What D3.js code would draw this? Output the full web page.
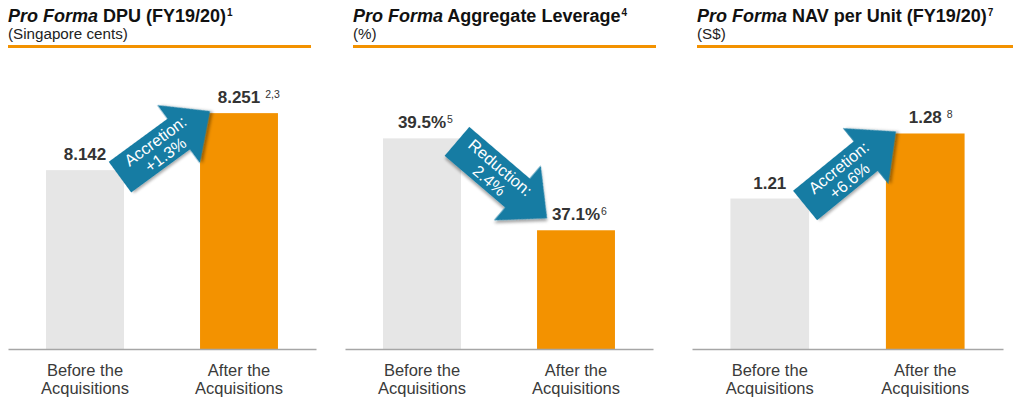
<!DOCTYPE html>
<html>
<head>
<meta charset="utf-8">
<script src="https://cdn.jsdelivr.net/npm/d3@7"></script>
<style>
  html, body { margin: 0; padding: 0; background: #ffffff; }
  svg { display: block; font-family: "Liberation Sans", Arial, sans-serif; }
</style>
</head>
<body>
<svg id="chart" width="1024" height="406"></svg>
<script>
// ---------------- data ----------------
const categories = ["Before the Acquisitions", "After the Acquisitions"];
const categoryLines = [["Before the", "Acquisitions"], ["After the", "Acquisitions"]];

const titleItalic = ["Pro Forma", "Pro Forma", "Pro Forma"];
const titleRest = ["DPU (FY19/20)", "Aggregate Leverage", "NAV per Unit (FY19/20)"];
const titleNotes = ["1", "4", "7"];
const subtitles = ["(Singapore cents)", "(%)", "(S$)"];

const dpuValues = [8.142, 8.251];
const leverageValues = [39.5, 37.1];
const navValues = [1.21, 1.28];

const dpuLabels = ["8.142", "8.251"];
const leverageLabels = ["39.5%", "37.1%"];
const navLabels = ["1.21", "1.28"];

const dpuNotes = ["", "2,3"];
const leverageNotes = ["5", "6"];
const navNotes = ["", "8"];

const arrowTexts = [["Accretion:", "+1.3%"], ["Reduction:", "2.4%"], ["Accretion:", "+6.6%"]];

// value-axis domains (truncated axes as in the source)
const dpuDomain = [7.8, 8.3];
const leverageDomain = [34, 40];
const navDomain = [1.048, 1.3];

// ---------------- layout ----------------
const series = [
  { values: dpuValues, labels: dpuLabels, notes: dpuNotes, domain: dpuDomain, top: 87.5 },
  { values: leverageValues, labels: leverageLabels, notes: leverageNotes, domain: leverageDomain, top: 119.2 },
  { values: navValues, labels: navLabels, notes: navNotes, domain: navDomain, top: 114.9 }
];
const axisX0 = [8, 345, 692];
const axisW = [308, 308, 311];
const headX = [8, 353, 697];
const headW = [303, 303, 316];
const baseY = 349;

const colors = { before: "#e6e6e6", after: "#f39200", arrow: "#177ba3", line: "#f39200", axis: "#a6a6a6" };

const svg = d3.select("#chart");

const defs = svg.append("defs");
const f = defs.append("filter").attr("id", "shadow").attr("x", "-20%").attr("y", "-20%").attr("width", "150%").attr("height", "150%");
f.append("feDropShadow").attr("dx", 2).attr("dy", 2).attr("stdDeviation", 1.6)
  .attr("flood-color", "#000").attr("flood-opacity", 0.35);

series.forEach((s, i) => {
  const g = svg.append("g");

  // header
  const t = g.append("text").attr("x", headX[i]).attr("y", 22)
    .attr("font-size", 18).attr("font-weight", "bold").attr("fill", "#111");
  t.append("tspan").attr("font-style", "italic").text(titleItalic[i]);
  t.append("tspan").text(" " + titleRest[i]);
  t.append("tspan").attr("font-size", 10).attr("dy", -6).attr("dx", 1).text(titleNotes[i]);

  g.append("text").attr("x", headX[i]).attr("y", 39)
    .attr("font-size", 15.2).attr("fill", "#222").text(subtitles[i]);

  g.append("line").attr("x1", headX[i]).attr("x2", headX[i] + headW[i])
    .attr("y1", 46.5).attr("y2", 46.5).attr("stroke", colors.line).attr("stroke-width", 3);

  // scales
  const x = d3.scaleBand().domain(categories).range([axisX0[i], axisX0[i] + axisW[i]])
    .paddingInner(0.494).paddingOuter(0.247);
  const y = d3.scaleLinear().domain(s.domain).range([baseY, s.top]);

  // bars
  g.selectAll("rect.bar").data(s.values).join("rect")
    .attr("class", "bar")
    .attr("x", (d, k) => x(categories[k]))
    .attr("width", x.bandwidth())
    .attr("y", d => y(d))
    .attr("height", d => baseY - y(d))
    .attr("fill", (d, k) => k === 0 ? colors.before : colors.after);

  // axis line
  const ax = g.append("g").attr("transform", `translate(0,${baseY})`)
    .call(d3.axisBottom(x).tickSize(0).tickSizeOuter(0).tickFormat(""));
  ax.select(".domain").attr("stroke", colors.axis).attr("stroke-width", 1.5);

  // category labels
  categories.forEach((c, k) => {
    const tx = g.append("text").attr("text-anchor", "middle").attr("font-size", 16.5).attr("fill", "#3a3a3a");
    categoryLines[k].forEach((ln, j) => {
      tx.append("tspan").attr("x", x(c) + x.bandwidth() / 2).attr("y", 375.5 + j * 18.5).text(ln);
    });
  });

  // value labels
  s.values.forEach((v, k) => {
    const cx = x(categories[k]) + x.bandwidth() / 2;
    const by = y(v) - 10;
    const main = g.append("text").attr("x", cx).attr("y", by).attr("text-anchor", "middle")
      .attr("font-size", 17).attr("font-weight", "bold").attr("fill", "#333").text(s.labels[k]);
    if (s.notes[k]) {
      const w = main.node().getComputedTextLength();
      g.append("text").attr("x", cx + w / 2 + (s.notes[k].length > 1 || i === 2 ? 5 : 1)).attr("y", by - 5)
        .attr("font-size", 10.5).attr("fill", "#333").text(s.notes[k]);
    }
  });

  // arrow
  const up = s.values[1] > s.values[0];
  const grayRight = x(categories[0]) + x.bandwidth();
  const orangeLeft = x(categories[1]);
  const tail = [grayRight - 4, y(s.values[0]) + (up ? 7 : 3)];
  const tip = [orangeLeft + 10, y(s.values[1]) + (up ? -2 : -12)];
  const dx = tip[0] - tail[0], dy = tip[1] - tail[1];
  const L = Math.hypot(dx, dy);
  const ang = Math.atan2(dy, dx) * 180 / Math.PI;
  const sw = 19, hw = 36, hl = 39;
  const pts = [[0, -sw], [L - hl, -sw], [L - hl, -hw], [L, 0], [L - hl, hw], [L - hl, sw], [0, sw]];
  const ag = g.append("g").attr("transform", `translate(${tail[0]},${tail[1]}) rotate(${ang})`);
  ag.append("path").attr("d", d3.line()(pts) + "Z").attr("fill", colors.arrow).attr("filter", "url(#shadow)");
  const at = ag.append("text").attr("text-anchor", "middle").attr("font-size", 16.3).attr("fill", "#fff");
  arrowTexts[i].forEach((ln, j) => {
    at.append("tspan").attr("x", 50).attr("y", (j === 0 ? -8.5 : 8.5)).attr("dominant-baseline", "central").text(ln);
  });
});
</script>
</body>
</html>
